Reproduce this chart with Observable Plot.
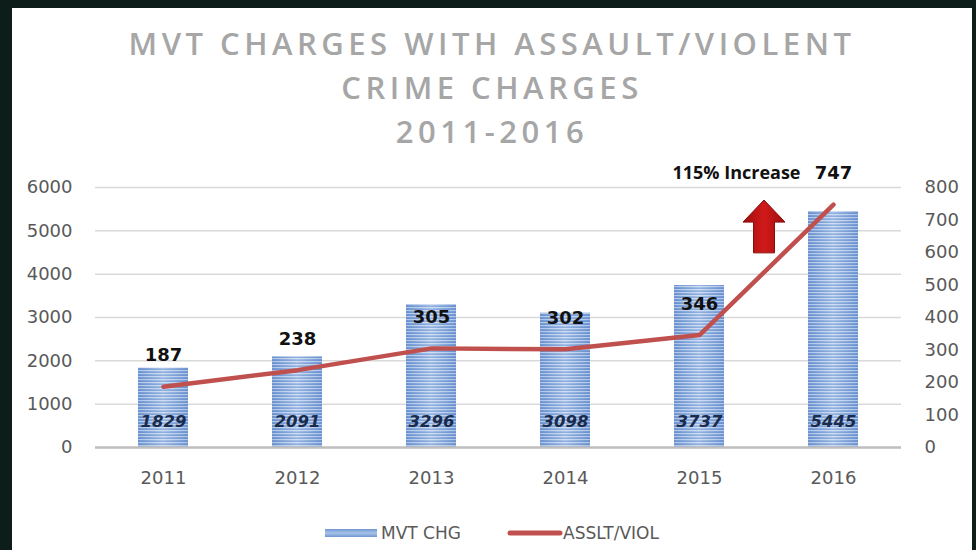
<!DOCTYPE html>
<html>
<head>
<meta charset="utf-8">
<script src="https://cdn.jsdelivr.net/npm/d3@7"></script>
<script src="https://cdn.jsdelivr.net/npm/@observablehq/plot@0.6"></script>
<style>
  html, body { margin: 0; padding: 0; }
  body { width: 976px; height: 550px; background: #0d1d1a; position: relative; overflow: hidden; }
  #card { position: absolute; left: 12px; top: 8px; width: 960px; height: 542px; background: #ffffff; }
  #title { position: absolute; left: 0; top: 13px; width: 960px; text-align: center;
    font-family: "Open Sans", sans-serif; font-weight: 600; font-size: 31px; letter-spacing: 4.5px;
    color: #a6a6a6; line-height: 44px; }
  #chart { position: absolute; left: 0; top: 137px; }
  #legend { position: absolute; left: 0; top: 510px; width: 960px; height: 30px;
    font-family: "DejaVu Sans", sans-serif; font-size: 17px; color: #595959; }
  .lg { position: absolute; top: 0; display: flex; align-items: center; height: 30px; }
</style>
</head>
<body>
<div id="card">
  <div id="title"></div>
  <div id="chart"></div>
  <div id="legend"></div>
</div>
<script>
// ---- data ----
const titleLines = ["MVT CHARGES WITH ASSAULT/VIOLENT", "CRIME CHARGES", "2011-2016"];
const years = ["2011", "2012", "2013", "2014", "2015", "2016"];
const mvtCharges = [1829, 2091, 3296, 3098, 3737, 5445];
const assaultCharges = [187, 238, 305, 302, 346, 747];
const leftTicks = [0, 1000, 2000, 3000, 4000, 5000, 6000];
const rightTicks = [0, 100, 200, 300, 400, 500, 600, 700, 800];
const seriesNames = ["MVT CHG", "ASSLT/VIOL"];
const annotationLabel = "115% Increase";
const annotationYear = "2016";
const arrowFromYear = "2015";
const arrowToYear = "2016";
const arrowTip = 5700, arrowNeck = 5190, arrowBase = 4480; // in left-axis units

const ratio = 6000 / 800; // right axis → left axis
const table = years.map((year, i) => ({year, mvt: mvtCharges[i], assault: assaultCharges[i]}));

document.getElementById("title").innerHTML = titleLines.map(t => `<div>${t}</div>`).join("");

const font = "DejaVu Sans, sans-serif";

const arrowMark = (index, scales) => {
  const x = scales.x;
  const bw = x.bandwidth ? x.bandwidth() : 0;
  const cx = (x(arrowFromYear) + x(arrowToYear)) / 2 + bw / 2 - 2;
  const yT = scales.y(arrowTip), yN = scales.y(arrowNeck), yB = scales.y(arrowBase);
  const hw = 21, sw = 10.5;
  const p = d3.create("svg:path")
    .attr("d", `M${cx},${yT}L${cx + hw},${yN}L${cx + sw},${yN}L${cx + sw},${yB}L${cx - sw},${yB}L${cx - sw},${yN}L${cx - hw},${yN}Z`)
    .attr("fill", "url(#arrowGrad)")
    .attr("stroke", "#8a0e0e")
    .attr("stroke-width", 1);
  return p.node();
};

const chart = Plot.plot({
  width: 960,
  height: 350,
  marginLeft: 83,
  marginRight: 71,
  marginTop: 42,
  marginBottom: 48,
  style: {fontFamily: font, fontSize: "18px", color: "#595959", background: "transparent", overflow: "visible"},
  x: {domain: years, paddingInner: 0.63, paddingOuter: 0.315, label: null},
  y: {domain: [0, 6000], label: null},
  marks: [
    Plot.gridY(leftTicks, {stroke: "#d9d9d9", strokeOpacity: 1, strokeWidth: 1.5}),
    Plot.barY(table, {x: "year", y: "mvt", fill: "url(#mvtGrad)"}),
    Plot.barY(table, {x: "year", y: "mvt", fill: "url(#mvtStripes)"}),
    Plot.ruleY([0], {stroke: "#bfbfbf", strokeWidth: 2.5}),
    Plot.line(table, {x: "year", y: d => d.assault * ratio, stroke: "#c0504d", strokeWidth: 4.5, strokeLinejoin: "round"}),
    Plot.text(table, {x: "year", y: 0, dy: -26, text: d => String(d.mvt), fontStyle: "italic", fontWeight: "bold",
      fill: "#1a2b4c", fontSize: 16.5, fontFamily: "DejaVu Sans, sans-serif"}),
    Plot.text(table, {x: "year", y: d => d.assault * ratio, dy: -31, text: d => String(d.assault),
      fontWeight: "bold", fill: "#111111", fontSize: 18, fontFamily: "DejaVu Sans, sans-serif"}),
    Plot.text([annotationLabel], {x: () => annotationYear, y: () => assaultCharges[5] * ratio, dy: -31, dx: -33,
      text: d => d, textAnchor: "end", fontWeight: "bold", fill: "#111111", fontSize: 18, fontFamily: "Open Sans, sans-serif"}),
    arrowMark,
    Plot.axisY(leftTicks, {anchor: "left", tickSize: 0, tickPadding: 23, fill: "#595959", label: null,
      tickFormat: d => String(d)}),
    Plot.axisY(rightTicks.map(v => v * ratio), {anchor: "right", tickSize: 0, tickPadding: 23, fill: "#595959",
      tickFormat: d => String(Math.round(d / ratio)), label: null}),
    Plot.axisX({anchor: "bottom", tickSize: 0, tickPadding: 24, fill: "#595959", label: null})
  ]
});

// gradient / stripe definitions for the bars and arrow
const defs = d3.select(chart).insert("defs", ":first-child");
const g = defs.append("linearGradient").attr("id", "mvtGrad").attr("x1", 0).attr("x2", 1).attr("y1", 0).attr("y2", 0);
g.append("stop").attr("offset", "0%").attr("stop-color", "#6f96d2");
g.append("stop").attr("offset", "50%").attr("stop-color", "#a9c3e9");
g.append("stop").attr("offset", "100%").attr("stop-color", "#6f96d2");
const pat = defs.append("pattern").attr("id", "mvtStripes").attr("patternUnits", "userSpaceOnUse")
  .attr("width", 8).attr("height", 3);
pat.append("rect").attr("x", 0).attr("y", 0).attr("width", 8).attr("height", 1).attr("fill", "#ffffff").attr("fill-opacity", 0.45);
pat.append("rect").attr("x", 0).attr("y", 2).attr("width", 8).attr("height", 1).attr("fill", "#4f7bbf").attr("fill-opacity", 0.25);
const ag = defs.append("linearGradient").attr("id", "arrowGrad").attr("x1", 0).attr("x2", 1).attr("y1", 0).attr("y2", 0);
ag.append("stop").attr("offset", "0%").attr("stop-color", "#9e0d0d");
ag.append("stop").attr("offset", "50%").attr("stop-color", "#d11a1a");
ag.append("stop").attr("offset", "100%").attr("stop-color", "#9e0d0d");

document.getElementById("chart").appendChild(chart);

// legend
const legend = document.getElementById("legend");
legend.innerHTML = `
  <div class="lg" style="left:313px">
    <svg width="52" height="10"><defs>
      <linearGradient id="lgGrad" x1="0" x2="0" y1="0" y2="1"><stop offset="0%" stop-color="#6f96d2"/><stop offset="50%" stop-color="#a9c3e9"/><stop offset="100%" stop-color="#6f96d2"/></linearGradient>
    </defs><rect x="0" y="1" width="52" height="8" fill="url(#lgGrad)"/></svg>
    <span style="margin-left:4px">${seriesNames[0]}</span>
  </div>
  <div class="lg" style="left:495px">
    <svg width="56" height="10"><line x1="3" x2="53" y1="5" y2="5" stroke="#c0504d" stroke-width="5" stroke-linecap="round"/></svg>
    <span style="margin-left:0px">${seriesNames[1]}</span>
  </div>`;
</script>
</body>
</html>
